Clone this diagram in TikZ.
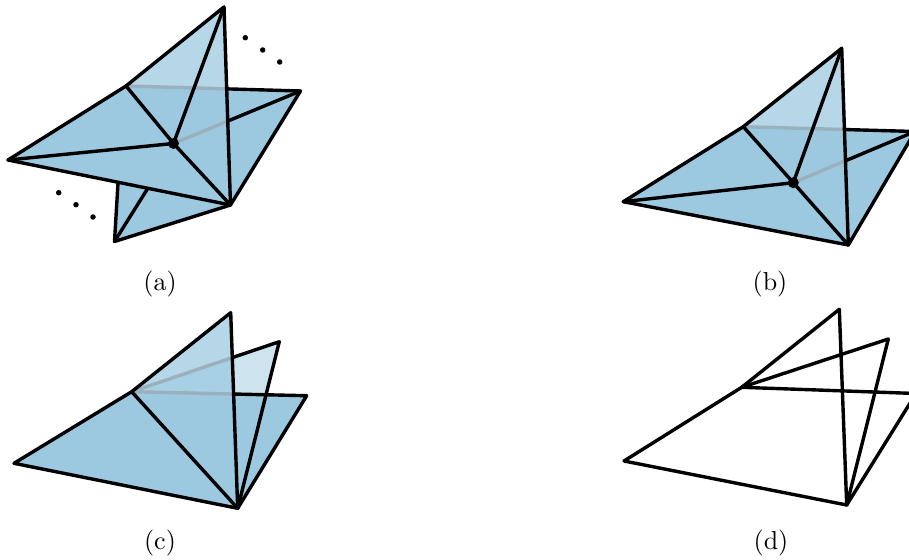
\documentclass[tikz,border=0pt]{standalone}
\definecolor{sheet}{HTML}{9CC9E0}
\definecolor{hidden}{HTML}{9BB0BD}
\tikzset{
  edge/.style={draw=black,line width=3.4pt,line join=round,line cap=round},
  behind/.style={draw=hidden,line width=3.4pt,line cap=butt},
  front/.style={fill=sheet},
  top flap/.style={fill=sheet,fill opacity=.75},
  mid flap/.style={fill=sheet,fill opacity=.5},
  hub/.style={circle,fill=black,inner sep=0pt,minimum size=11pt},
  pip/.style={circle,fill=black,inner sep=0pt,minimum size=5.5pt},
  caption/.style={scale=2.6,inner sep=0pt}
}
\begin{document}
\begin{tikzpicture}[x=1pt,y=-1pt]
\useasboundingbox (0,0) rectangle (909,559);
\clip (0,0) rectangle (909,559);
% ---- panel a
\coordinate (aT) at (224,7);
\coordinate (aL) at (8,160);
\coordinate (aM) at (126,86);
\coordinate (aR) at (300.5,91);
\coordinate (aB) at (230.5,205);
\coordinate (aS) at (114.5,241.5);
\coordinate (aP) at (118,183);
\coordinate (aQ) at (148,188);
\coordinate (aC) at (173.5,143.5);
\coordinate (aX) at (intersection of aM--aR and aT--aB);
\coordinate (aY) at (intersection of aC--aR and aT--aB);
\fill[front] (aS) -- (aP) -- (aB) -- cycle;
\draw[edge] (aP) -- (aS) -- (aB);
\draw[edge] (aS) -- (aQ);
\fill[front] (aM) -- (aR) -- (aB) -- cycle;
\fill[top flap] (aT) -- (aM) -- (aC) -- (aB) -- cycle;
\draw[behind] (aM) -- (aX);
\draw[behind] (aC) -- (aY);
\draw[edge] (aX) -- (aR) -- (aB);
\draw[edge] (aY) -- (aR);
\fill[front] (aL) -- (aM) -- (aC) -- (aB) -- cycle;
\draw[edge] (aB) -- (aL) -- (aM) -- (aT) -- cycle;
\draw[edge] (aL) -- (aC) (aM) -- (aC) (aT) -- (aC) (aB) -- (aC);
\node[hub] (aH) at (aC) {};
\node[pip] (ad1) at (245.3,37.7) {};
\node[pip] (ad2) at (262.7,50) {};
\node[pip] (ad3) at (279.7,62) {};
\node[pip] (ad4) at (58.7,192.7) {};
\node[pip] (ad5) at (76,204.7) {};
\node[pip] (ad6) at (93,217) {};
\node[caption] (acap) at (160,284) {(a)};
% ---- panel b
\coordinate (bT) at (841.7,48.3);
\coordinate (bL) at (623.3,201.7);
\coordinate (bM) at (743.3,126.7);
\coordinate (bR) at (915,131.5);
\coordinate (bB) at (848.3,245);
\coordinate (bC) at (793.3,182.7);
\coordinate (bX) at (intersection of bM--bR and bT--bB);
\coordinate (bY) at (intersection of bC--bR and bT--bB);
\fill[front] (bM) -- (bR) -- (bB) -- cycle;
\fill[top flap] (bT) -- (bM) -- (bC) -- (bB) -- cycle;
\draw[behind] (bM) -- (bX);
\draw[behind] (bC) -- (bY);
\draw[edge] (bX) -- (bR) -- (bB);
\draw[edge] (bY) -- (bR);
\fill[front] (bL) -- (bM) -- (bC) -- (bB) -- cycle;
\draw[edge] (bB) -- (bL) -- (bM) -- (bT) -- cycle;
\draw[edge] (bL) -- (bC) (bM) -- (bC) (bT) -- (bC) (bB) -- (bC);
\node[hub] (bH) at (bC) {};
\node[caption] (bcap) at (770,284) {(b)};
% ---- panel c
\coordinate (cT) at (230.7,312.7);
\coordinate (cQ) at (279.3,341.7);
\coordinate (cR) at (306.7,395.7);
\coordinate (cM) at (131.7,391.7);
\coordinate (cL) at (14,463.3);
\coordinate (cB) at (237.7,508.3);
\coordinate (cX) at (intersection of cM--cR and cT--cB);
\coordinate (cY) at (intersection of cM--cQ and cT--cB);
\fill[mid flap] (cM) -- (cQ) -- (cB) -- cycle;
\fill[front] (cM) -- (cR) -- (cB) -- cycle;
\fill[top flap] (cT) -- (cM) -- (cB) -- cycle;
\draw[behind] (cM) -- (cX);
\draw[behind] (cM) -- (cY);
\draw[edge] (cY) -- (cQ) -- (cB);
\draw[edge] (cX) -- (cR) -- (cB);
\fill[front] (cL) -- (cM) -- (cB) -- cycle;
\draw[edge] (cB) -- (cL) -- (cM) -- (cT) -- cycle;
\draw[edge] (cM) -- (cB);
\node[caption] (ccap) at (160,543) {(c)};
% ---- panel d
\coordinate (dT) at (839.3,309.3);
\coordinate (dQ) at (888.3,339);
\coordinate (dR) at (916,393.5);
\coordinate (dM) at (741.7,387.3);
\coordinate (dL) at (624,461);
\coordinate (dB) at (846.7,505);
\draw[edge] (dB) -- (dL) -- (dM) -- (dT) -- cycle;
\draw[edge] (dM) -- (dQ) -- (dB);
\draw[edge] (dM) -- (dR) -- (dB);
\node[caption] (dcap) at (771,543) {(d)};
\end{tikzpicture}
\end{document}
